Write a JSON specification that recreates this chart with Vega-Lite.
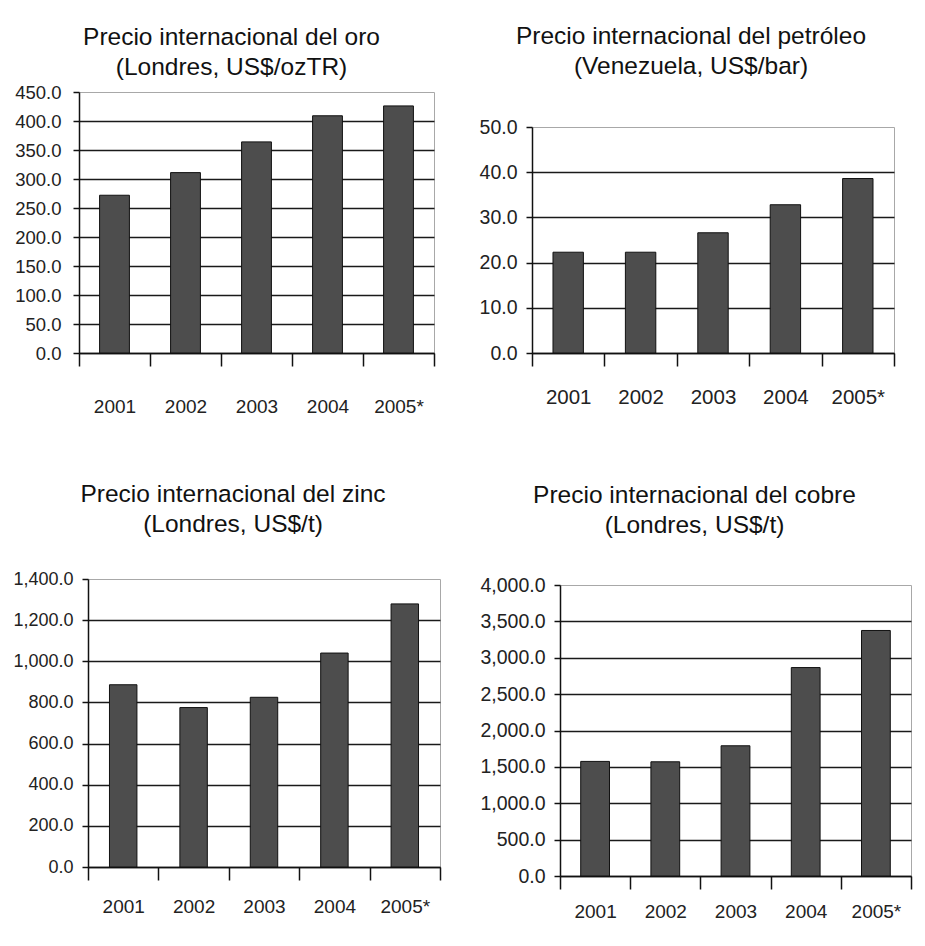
{
  "$schema": "https://vega.github.io/schema/vega-lite/v6.json",
  "background": "white",
  "padding": {"left": 12, "top": 23, "right": 5, "bottom": 5},
  "datasets": {
    "oro": [
      {"year": "2001", "value": 272},
      {"year": "2002", "value": 311},
      {"year": "2003", "value": 364},
      {"year": "2004", "value": 409},
      {"year": "2005*", "value": 426}
    ],
    "petroleo": [
      {"year": "2001", "value": 22.3},
      {"year": "2002", "value": 22.3},
      {"year": "2003", "value": 26.6},
      {"year": "2004", "value": 32.8},
      {"year": "2005*", "value": 38.6}
    ],
    "zinc": [
      {"year": "2001", "value": 886},
      {"year": "2002", "value": 775},
      {"year": "2003", "value": 825},
      {"year": "2004", "value": 1040},
      {"year": "2005*", "value": 1279}
    ],
    "cobre": [
      {"year": "2001", "value": 1575},
      {"year": "2002", "value": 1570},
      {"year": "2003", "value": 1790},
      {"year": "2004", "value": 2865},
      {"year": "2005*", "value": 3375}
    ],
    "blank": [{"a": 1}]
  },
  "config": {
    "font": "Liberation Sans",
    "view": {"stroke": "#a8a8a8", "strokeWidth": 1},
    "axis": {
      "domainColor": "#111111",
      "domainWidth": 1.5,
      "tickColor": "#111111",
      "tickWidth": 1.5,
      "labelColor": "#222222",
      "labelFont": "Liberation Sans"
    },
    "axisY": {
      "gridColor": "#1a1a1a",
      "gridWidth": 1.5,
      "tickSize": 6,
      "labelPadding": 9,
      "labelFontSize": 18.5
    },
    "axisX": {
      "grid": false,
      "labelAngle": 0,
      "tickBand": "extent",
      "tickSize": 13,
      "labelFontSize": 19
    },
    "title": {
      "fontSize": 24.5,
      "font": "Liberation Sans",
      "fontWeight": "normal",
      "color": "#111111",
      "lineHeight": 30
    }
  },
  "columns": 1,
  "align": "none",
  "spacing": 64,
  "concat": [
    {
      "spacing": 42,
      "hconcat": [
        {
          "width": 355,
          "height": 261,
          "title": {"text": ["Precio internacional del oro", "(Londres, US$/ozTR)"], "dx": -25, "offset": 3},
          "data": {"name": "oro"},
          "mark": {"type": "bar", "width": {"band": 0.42}, "fill": "#4d4d4d", "stroke": "#111111", "strokeWidth": 1},
          "encoding": {
            "x": {"field": "year", "type": "nominal", "sort": null, "title": null,
                  "scale": {"paddingInner": 0, "paddingOuter": 0},
                  "axis": {"labelPadding": 31}},
            "y": {"field": "value", "type": "quantitative", "title": null,
                  "scale": {"domain": [0, 450], "nice": false},
                  "axis": {"values": [0, 50, 100, 150, 200, 250, 300, 350, 400, 450], "format": ",.1f", "labelPadding": 12,
                           "gridOpacity": {"condition": {"test": "datum.value >= 450", "value": 0}, "value": 1}}}
          }
        },
        {
          "bounds": "flush",
          "spacing": 34,
          "vconcat": [
            {
              "width": 362,
              "height": 1,
              "data": {"name": "blank"},
              "mark": {"type": "point", "opacity": 0},
              "encoding": {},
              "view": {"stroke": null}
            },
            {
              "width": 362,
              "height": 226,
              "title": {"text": ["Precio internacional del petróleo", "(Venezuela, US$/bar)"], "dx": -22, "offset": 38},
              "data": {"name": "petroleo"},
              "mark": {"type": "bar", "width": {"band": 0.42}, "fill": "#4d4d4d", "stroke": "#111111", "strokeWidth": 1},
              "encoding": {
                "x": {"field": "year", "type": "nominal", "sort": null, "title": null,
                      "scale": {"paddingInner": 0, "paddingOuter": 0},
                      "axis": {"labelPadding": 21, "labelFontSize": 20.5}},
                "y": {"field": "value", "type": "quantitative", "title": null,
                      "scale": {"domain": [0, 50], "nice": false},
                      "axis": {"values": [0, 10, 20, 30, 40, 50], "format": ",.1f", "labelFontSize": 19.5,
                               "gridOpacity": {"condition": {"test": "datum.value >= 50", "value": 0}, "value": 1}}}
              }
            }
          ]
        }
      ]
    },
    {
      "bounds": "flush",
      "spacing": 8,
      "hconcat": [
        {
          "width": 1,
          "height": 1,
          "data": {"name": "blank"},
          "mark": {"type": "point", "opacity": 0},
          "encoding": {},
          "view": {"stroke": null}
        },
        {
          "spacing": 37,
          "hconcat": [
            {
              "width": 352,
              "height": 288,
              "title": {"text": ["Precio internacional del zinc", "(Londres, US$/t)"], "dx": -31, "offset": 33},
              "data": {"name": "zinc"},
              "mark": {"type": "bar", "width": {"band": 0.39}, "fill": "#4d4d4d", "stroke": "#111111", "strokeWidth": 1},
              "encoding": {
                "x": {"field": "year", "type": "nominal", "sort": null, "title": null,
                      "scale": {"paddingInner": 0, "paddingOuter": 0},
                      "axis": {"labelPadding": 17}},
                "y": {"field": "value", "type": "quantitative", "title": null,
                      "scale": {"domain": [0, 1400], "nice": false},
                      "axis": {"values": [0, 200, 400, 600, 800, 1000, 1200, 1400], "format": ",.1f", "labelFontSize": 18,
                               "gridOpacity": {"condition": {"test": "datum.value >= 1400", "value": 0}, "value": 1}}}
              }
            },
            {
              "bounds": "flush",
              "spacing": 5,
              "vconcat": [
                {
                  "width": 351,
                  "height": 1,
                  "data": {"name": "blank"},
                  "mark": {"type": "point", "opacity": 0},
                  "encoding": {},
                  "view": {"stroke": null}
                },
                {
                  "width": 351,
                  "height": 291,
                  "title": {"text": ["Precio internacional del cobre", "(Londres, US$/t)"], "dx": -41, "offset": 37},
                  "data": {"name": "cobre"},
                  "mark": {"type": "bar", "width": {"band": 0.41}, "fill": "#4d4d4d", "stroke": "#111111", "strokeWidth": 1},
                  "encoding": {
                    "x": {"field": "year", "type": "nominal", "sort": null, "title": null,
                          "scale": {"paddingInner": 0, "paddingOuter": 0},
                          "axis": {"labelPadding": 13}},
                    "y": {"field": "value", "type": "quantitative", "title": null,
                          "scale": {"domain": [0, 4000], "nice": false},
                          "axis": {"values": [0, 500, 1000, 1500, 2000, 2500, 3000, 3500, 4000], "format": ",.1f", "labelFontSize": 19.5,
                                   "gridOpacity": {"condition": {"test": "datum.value >= 4000", "value": 0}, "value": 1}}}
                  }
                }
              ]
            }
          ]
        }
      ]
    }
  ]
}
